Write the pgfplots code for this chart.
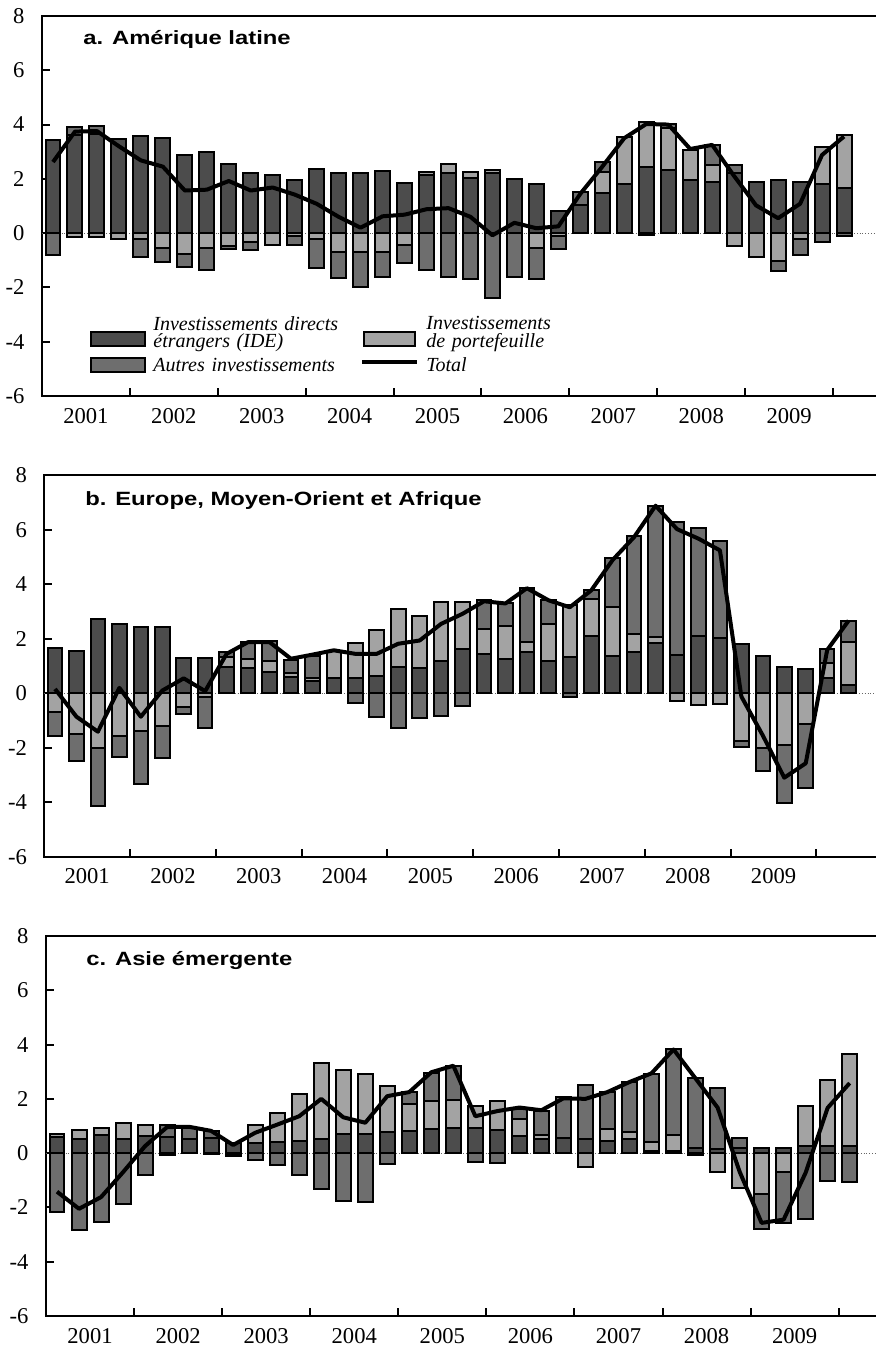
\documentclass[border=0pt]{standalone}
\usepackage{fontspec}
\setmainfont{Liberation Serif}
\newfontfamily\titlefont[FakeStretch=1.24]{Liberation Sans}
\usepackage{pgfplots}
\usepackage{pgfplotstable}
\pgfplotsset{compat=1.18}
\definecolor{cide}{gray}{0.30}
\definecolor{cpf}{gray}{0.64}
\definecolor{coth}{gray}{0.43}

\pgfplotstableread{
x ide pf oth tot
0 3.44 0 -0.80 2.62
1 3.62 -0.15 0.30 3.74
2 3.65 -0.15 0.30 3.76
3 3.48 -0.22 0 3.20
4 3.58 -0.22 -0.66 2.68
5 3.52 -0.53 -0.54 2.45
6 2.87 -0.76 -0.49 1.57
7 3.00 -0.55 -0.80 1.60
8 2.53 -0.47 -0.12 1.92
9 2.21 -0.31 -0.30 1.57
10 2.15 -0.43 0 1.68
11 1.94 -0.12 -0.33 1.42
12 2.38 -0.22 -1.07 1.08
13 2.23 -0.71 -0.95 0.60
14 2.21 -0.70 -1.29 0.20
15 2.28 -0.70 -0.92 0.62
16 1.84 -0.43 -0.67 0.68
17 2.15 0.12 -1.35 0.88
18 2.21 0.33 -1.60 0.92
19 2.02 0.25 -1.68 0.60
20 2.21 0.12 -2.39 -0.08
21 2.00 0 -1.62 0.38
22 1.82 -0.55 -1.13 0.18
23 0.82 -0.10 -0.49 0.25
24 1.04 0 0.49 1.45
25 1.47 0.80 0.34 2.45
26 1.80 1.75 0 3.50
27 2.45 1.63 -0.08 4.02
28 2.33 1.53 0.15 4.00
29 1.96 1.10 0 3.10
30 1.87 0.65 0.74 3.25
31 2.21 -0.47 0.30 2.10
32 1.87 -0.88 0 1.02
33 1.94 -1.04 -0.37 0.55
34 1.88 -0.22 -0.58 1.08
35 1.82 1.35 -0.31 2.88
36 1.68 1.94 -0.10 3.56
}\dataA

\pgfplotstableread{
x ide pf oth tot
0 1.65 -0.70 -0.86 0.16
1 1.56 -1.51 -0.97 -0.86
2 2.73 -2.00 -2.14 -1.41
3 2.55 -1.56 -0.77 0.20
4 2.45 -1.37 -1.96 -0.86
5 2.45 -1.20 -1.17 0.10
6 1.31 -0.49 -0.28 0.55
7 1.31 -0.12 -1.14 0.08
8 0.98 0.37 0.16 1.45
9 0.92 0.33 0.65 1.88
10 0.80 0.37 0.74 1.88
11 0.59 0.15 0.49 1.27
12 0.47 0.09 0.82 1.42
13 0.57 0.98 0 1.58
14 0.58 1.26 -0.37 1.45
15 0.65 1.68 -0.88 1.45
16 0.98 2.11 -1.26 1.82
17 0.94 1.90 -0.89 1.94
18 1.19 2.18 -0.82 2.55
19 1.63 1.74 -0.45 2.92
20 1.45 0.91 1.05 3.38
21 1.26 1.23 0.82 3.30
22 1.51 0.37 2.00 3.86
23 1.20 1.35 0.86 3.42
24 1.32 1.92 -0.15 3.16
25 2.11 1.36 0.33 3.78
26 1.38 1.80 1.78 4.90
27 1.51 0.67 3.58 5.74
28 1.86 0.20 4.83 6.89
29 1.41 -0.27 4.87 6.03
30 2.12 -0.43 3.95 5.68
31 2.02 -0.39 3.59 5.25
32 1.81 -1.75 -0.21 -0.12
33 1.38 -2.00 -0.84 -1.55
34 0.96 -1.90 -2.14 -3.10
35 0.89 -1.14 -2.32 -2.57
36 0.55 0.55 0.51 1.59
37 0.31 1.56 0.77 2.67
}\dataB

\pgfplotstableread{
x ide pf oth tot
0 0.60 0.12 -2.16 -1.42
1 0.53 0.31 -2.84 -2.05
2 0.67 0.27 -2.54 -1.62
3 0.52 0.60 -1.89 -0.70
4 0.62 0.42 -0.79 0.26
5 0.58 -0.08 0.45 0.96
6 0.52 0 0.42 0.97
7 0.55 -0.05 0.28 0.82
8 0.38 -0.05 -0.05 0.30
9 0.38 0.64 -0.25 0.75
10 0.40 1.08 -0.45 1.05
11 0.44 1.74 -0.81 1.36
12 0.53 2.80 -1.31 2.00
13 0.71 2.37 -1.77 1.32
14 0.71 2.19 -1.79 1.12
15 0.77 1.72 -0.39 2.10
16 0.81 1.00 0.45 2.25
17 0.90 1.02 1.05 2.98
18 0.93 1.01 1.26 3.22
19 0.93 0.80 -0.33 1.36
20 0.85 1.07 -0.35 1.55
21 0.64 0.63 0.34 1.68
22 0.52 0.16 0.88 1.58
23 0.55 0 1.52 2.02
24 0.52 -0.51 2.00 2.00
25 0.45 0.43 1.38 2.25
26 0.53 0.25 1.85 2.62
27 0.07 0.34 2.50 2.94
28 0.07 0.59 3.16 3.82
29 0.20 -0.07 2.58 2.75
30 0.16 -0.70 2.25 1.68
31 0.20 -1.30 0.34 -0.68
32 0.20 -1.50 -1.29 -2.57
33 0.20 -0.69 -1.90 -2.45
34 0.28 1.45 -2.42 -0.72
35 0.28 2.43 -1.03 1.67
36 0.26 3.38 -1.07 2.58
}\dataC

\tikzset{ttl/.style={anchor=base west, inner sep=0pt, font=\titlefont\bfseries\fontsize{9.6}{11}\selectfont}}

\pgfplotsset{
  panel/.style={
    scale only axis, anchor=north west,
    xmin=-0.5, ymin=-6, ymax=8,
    enlargelimits=false,
    separate axis lines,
    axis x line=box, axis y line=left,
    axis line style={-, line width=1pt, line cap=rect},
    xtick pos=left, ytick pos=left,
    tick align=inside, major tick length=4pt,
    tick style={line width=1pt, black},
    xtick={3.5,7.5,...,35.5}, xticklabels={},
    extra x ticks={1.5,5.5,...,33.5},
    extra x tick labels={2001,2002,2003,2004,2005,2006,2007,2008,2009},
    extra x tick style={major tick length=0pt},
    ytick={-6,-4,...,8}, yticklabels={-6,-4,-2,0,2,4,6,8},
    tick label style={font=\fontsize{11.3}{13}\selectfont},
    yticklabel style={xshift=-5.2pt},
    xticklabel style={yshift=-2.5pt},
  },
  barpanel/.style={
    panel, ybar stacked, bar width=0.68,
    extra y ticks={0}, extra y tick labels={},
    extra y tick style={grid=major, major grid style={densely dotted, black!60, line width=0.6pt}, major tick length=0pt},
  },
  linepanel/.style={panel, hide axis},
}

% positive and negative values stack separately (as in the reference)
\newcommand\stackbars[1]{%
  \addplot[fill=cide, draw=black, line width=1pt] table[x=x, y=ide]{#1};
  \addplot[fill=cpf, draw=black, line width=1pt] table[x=x, y=pf]{#1};
  \addplot[fill=coth, draw=black, line width=1pt] table[x=x, y=oth]{#1};
}

\begin{document}
\begin{tikzpicture}
\useasboundingbox (0,0) rectangle (437.5pt,674.5pt);

% ---------- panel a ----------
\begin{axis}[barpanel, at={(21pt,666.5pt)}, width=416.5pt, height=190pt, xmax=37.41,
  legend columns=2, legend cell align=left,
  legend style={at={(axis description cs:0.0576,0.2105)}, anchor=north west,
    draw=none, fill=none, inner sep=0pt, column sep=3.5pt, row sep=5pt,
    font=\itshape\fontsize{10}{8.6}\selectfont,
    nodes={inner sep=0pt, text width=100pt, align=left}}]
\addlegendimage{legend image code/.code={\draw[fill=cide, draw=black, line width=1pt] (0pt,-10.75pt) rectangle (27pt,-3.75pt);}}
\addlegendentry{Investissements directs\\étrangers (IDE)}
\addlegendimage{legend image code/.code={\draw[fill=cpf, draw=black, line width=1pt] (1pt,-10.75pt) rectangle (26.5pt,-3.75pt);}}
\addlegendentry{Investissements\\de portefeuille}
\addlegendimage{legend image code/.code={\draw[fill=coth, draw=black, line width=1pt] (0pt,-3pt) rectangle (27pt,4pt);}}
\addlegendentry{Autres investissements}
\addlegendimage{legend image code/.code={\draw[black, line width=2pt] (0pt,2pt) -- (27.5pt,2pt);}}
\addlegendentry{Total}
\stackbars{\dataA}
\node[ttl, xshift=20.5pt, yshift=-14.5pt] at (rel axis cs:0,1) {a. Amérique latine};
\end{axis}
\begin{axis}[linepanel, at={(21pt,666.5pt)}, width=416.5pt, height=190pt, xmax=37.41]
\addplot[black, line width=2pt, line join=round] table[x=x, y=tot]{\dataA};
\end{axis}

% ---------- panel b ----------
\begin{axis}[barpanel, at={(22.15pt,436.75pt)}, width=415.35pt, height=190.6pt, xmax=38.23]
\stackbars{\dataB}
\node[ttl, xshift=20.3pt, yshift=-15.25pt] at (rel axis cs:0,1) {b. Europe, Moyen-Orient et Afrique};
\end{axis}
\begin{axis}[linepanel, at={(22.15pt,436.75pt)}, width=415.35pt, height=190.6pt, xmax=38.23]
\addplot[black, line width=2pt, line join=round] table[x=x, y=tot]{\dataB};
\end{axis}

% ---------- panel c ----------
\begin{axis}[barpanel, at={(23pt,206.5pt)}, width=414.5pt, height=190pt, xmax=37.15]
\stackbars{\dataC}
\node[ttl, xshift=20pt, yshift=-15pt] at (rel axis cs:0,1) {c. Asie émergente};
\end{axis}
\begin{axis}[linepanel, at={(23pt,206.5pt)}, width=414.5pt, height=190pt, xmax=37.15]
\addplot[black, line width=2pt, line join=round] table[x=x, y=tot]{\dataC};
\end{axis}
\end{tikzpicture}
\end{document}
